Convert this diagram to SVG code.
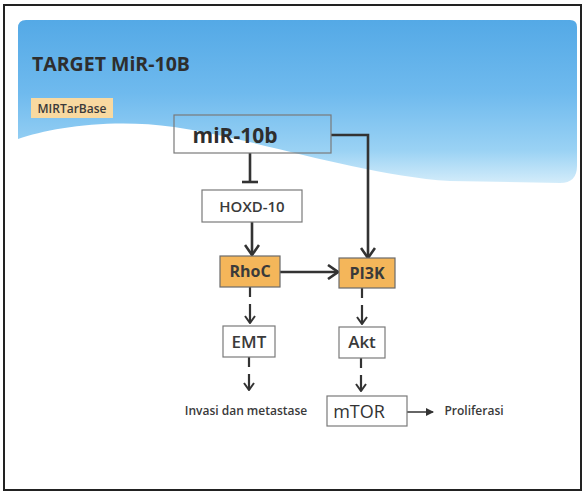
<svg xmlns="http://www.w3.org/2000/svg" width="584" height="493" viewBox="0 0 584 493">
<defs>
  <linearGradient id="sky" x1="0" y1="0" x2="0" y2="1">
    <stop offset="0" stop-color="#54a9e6"/>
    <stop offset="0.45" stop-color="#6fbaee"/>
    <stop offset="0.8" stop-color="#9ad2f4"/>
    <stop offset="1" stop-color="#d3ecfa"/>
  </linearGradient>
  <marker id="vbig" viewBox="0 0 12 16" refX="11" refY="8" markerWidth="12" markerHeight="16" markerUnits="userSpaceOnUse" orient="auto">
    <path d="M1,1 L11,8 L1,15" fill="none" stroke="#333" stroke-width="2.6" stroke-linejoin="miter"/>
  </marker>
  <marker id="vsmall" viewBox="0 0 9 12" refX="8" refY="6" markerWidth="9" markerHeight="12" markerUnits="userSpaceOnUse" orient="auto">
    <path d="M1,1 L8,6 L1,11" fill="none" stroke="#333" stroke-width="2"/>
  </marker>
  <marker id="tri" viewBox="0 0 8 8" refX="7" refY="4" markerWidth="8" markerHeight="8" markerUnits="userSpaceOnUse" orient="auto">
    <path d="M0,0 L8,4 L0,8 Z" fill="#333"/>
  </marker>
  <style>
    .t { font-family: "Open Sans", "Noto Sans", "Liberation Sans", sans-serif; fill: #3a3a3a; text-anchor: middle; }
    .box { fill: #fff; stroke: #7a7a7a; stroke-width: 1.2; }
    .org { fill: #f4b65a; stroke: #6a6a6a; stroke-width: 1.2; }
    .solid { fill: none; stroke: #333; stroke-width: 2.6; }
    .dash { fill: none; stroke: #333; stroke-width: 2.2; stroke-dasharray: 10 7 40; }
  </style>
</defs>
<rect x="0" y="0" width="584" height="493" fill="#fff"/>
<rect x="4" y="5" width="577" height="485" fill="#fff" stroke="#222" stroke-width="2"/>
<path d="M18,139 C50,128 110,118 174,127 C260,140 360,175 450,181 L560,183 Q577,183 577,166 L577,27 Q577,20 570,20 L26,20 Q18,20 18,28 Z" fill="url(#sky)"/>
<text class="t" x="32" y="71" font-size="19.5" font-weight="700" style="text-anchor:start;fill:#2e2e2e">TARGET MiR-10B</text>
<g id="mirtarbase">
  <rect x="31" y="98" width="82" height="20" fill="#f8d9a0"/>
  <text class="t" x="72" y="113" font-size="12" font-weight="600" fill="#444">MIRTarBase</text>
</g>
<g id="connectors">
  <path class="solid" d="M250,153 L250,182"/>
  <path class="solid" d="M242,182 L258,182"/>
  <path class="solid" d="M331,135 L368,135 L368,258" marker-end="url(#vbig)"/>
  <path class="solid" d="M252,222 L252,255" marker-end="url(#vbig)"/>
  <path class="solid" d="M280,272 L338,272" marker-end="url(#vbig)"/>
  <path class="dash" d="M250,287 L250,323" marker-end="url(#vsmall)"/>
  <path class="dash" d="M362,288 L362,324" marker-end="url(#vsmall)"/>
  <path class="dash" d="M249,357 L249,390" marker-end="url(#vsmall)"/>
  <path class="dash" d="M361,358 L361,391" marker-end="url(#vsmall)"/>
  <path fill="none" stroke="#333" stroke-width="1.5" d="M407,412 L433,412" marker-end="url(#tri)"/>
</g>
<g id="mir10b">
  <rect x="174" y="115" width="157" height="38" fill="none" stroke="#7a7a7a" stroke-width="1.2"/>
  <text class="t" x="235" y="143" font-size="21" font-weight="700" style="fill:#2e2e2e">miR-10b</text>
</g>
<g id="hoxd10">
  <rect class="box" x="202" y="190" width="100" height="32"/>
  <text class="t" x="252" y="212" font-size="15" font-weight="600">HOXD-10</text>
</g>
<g id="rhoc">
  <rect class="org" x="220" y="256" width="60" height="31"/>
  <text class="t" x="250" y="277" font-size="16" font-weight="700">RhoC</text>
</g>
<g id="pi3k">
  <rect class="org" x="339" y="258" width="56" height="30"/>
  <text class="t" x="367" y="279" font-size="16" font-weight="700">PI3K</text>
</g>
<g id="emt">
  <rect class="box" x="223" y="326" width="52" height="31"/>
  <text class="t" x="249" y="348" font-size="17" font-weight="600">EMT</text>
</g>
<g id="akt">
  <rect class="box" x="339" y="327" width="46" height="31"/>
  <text class="t" x="362" y="348" font-size="17" font-weight="600">Akt</text>
</g>
<g id="invasi">
  <text class="t" x="246" y="415" font-size="12" font-weight="600">Invasi dan metastase</text>
</g>
<g id="mtor">
  <rect class="box" x="327" y="396" width="80" height="30"/>
  <text class="t" x="359" y="418" font-size="18" font-weight="400" style="fill:#333">mTOR</text>
</g>
<g id="proliferasi">
  <text class="t" x="474" y="415" font-size="12" font-weight="600">Proliferasi</text>
</g>
</svg>
